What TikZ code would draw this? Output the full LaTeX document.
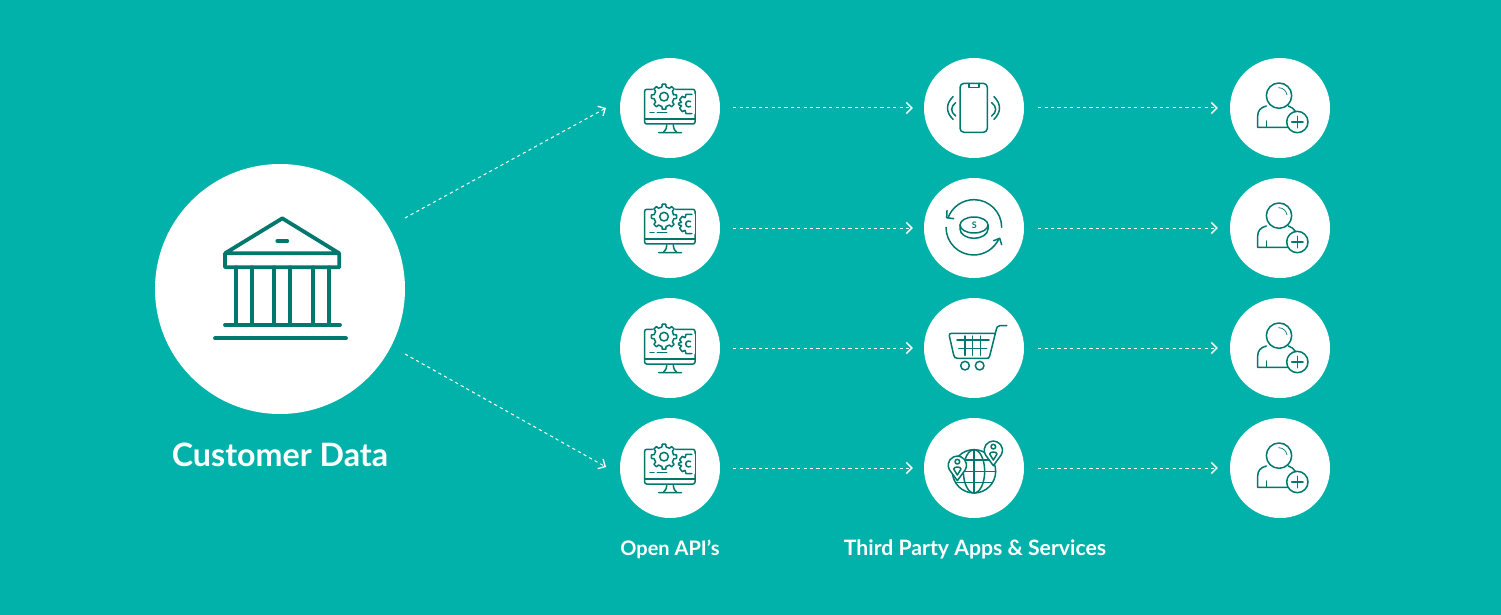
\documentclass[tikz,border=0pt]{standalone}
\usepackage{fontspec}
\setmainfont{Lato}
\usetikzlibrary{arrows.meta}
\definecolor{bgc}{HTML}{00B2A9}
\definecolor{ink}{HTML}{00786E}
\tikzset{
  x=1pt,y=-1pt,
  disc/.style={circle,fill=white,draw=none,inner sep=0pt,minimum size=100pt},
  flow/.style={draw=white,line width=1pt,dash pattern=on 3.2pt off 3.2pt,
    -{Straight Barb[length=5.5pt,width=11pt,line width=1.3pt]}},
  ico/.style={draw=ink,line width=1.5pt,line join=round,line cap=round},
  lab/.style={text=white,font=\fontsize{20}{24}\selectfont\bfseries,inner sep=0pt},
  monitor/.pic={\begin{scope}[x=.3333pt,y=-.3333pt,shift={(-180,-174)},ico]
    \draw[rounded corners=2pt] (104,118) -- (104,222) -- (255,222) -- (255,118) -- cycle;
    \draw (104,207) -- (255,207);
    \draw (170,224) .. controls (170,236) and (166,242) .. (160,247) (190,224) .. controls (190,236) and (194,242) .. (200,247) (146,248) -- (214,248);
    \draw (120,188) -- (132,188) (142,188) -- (170,188);
    \begin{scope}[shift={(162,140)}]
      \fill[white] (0,0) circle [radius=40];
      \draw (-10:29) \foreach \a in {0,45,...,315}{ -- (\a-12:30) -- (\a-8:38) -- (\a+8:38) -- (\a+12:30)} -- cycle;
      \draw (0,0) circle [radius=13];
    \end{scope}
    \begin{scope}[shift={(236,162)}]
      \fill[white] (-32,-30) rectangle (18,30);
      \draw (-72:30) -- (-105:30) -- (-120:22) -- (-130:30) -- (-155:30) -- (-167:22) -- (-175:30) -- (175:30) -- (167:22) -- (155:30) -- (130:30) -- (120:22) -- (105:30) -- (72:30);
      \draw (50:9) arc [start angle=50,end angle=310,radius=9];
    \end{scope}
  \end{scope}},
  phone/.pic={\begin{scope}[x=.3333pt,y=-.3333pt,shift={(-177,-174)},ico]
    \draw[rounded corners=4pt] (135,100) rectangle (217,247);
    \draw (162,100) -- (162,112) -- (192,112) -- (192,100);
    \draw (122,158) .. controls (106,170) and (106,186) .. (122,198);
    \draw (114,140) .. controls (92,162) and (92,186) .. (114,208);
    \draw (230,158) .. controls (246,170) and (246,186) .. (230,198);
    \draw (237,140) .. controls (259,162) and (259,186) .. (237,208);
  \end{scope}},
  adduser/.pic={\begin{scope}[x=.3333pt,y=-.3333pt,shift={(-180,-174)},ico]
    \draw (139,168) .. controls (122,172) and (113,182) .. (113,198) -- (113,232) -- (205,232);
    \draw (205,168) .. controls (215,172) and (222,176) .. (226,184);
    \draw (140,213) -- (140,232);
    \draw[fill=white] (177,137) circle [radius=38];
    \draw[line width=.7pt] (176,113) .. controls (190,114) and (198,122) .. (201,134);
    \draw[fill=white] (232,216) circle [radius=32];
    \draw (232,199) -- (232,233) (215,216) -- (249,216);
  \end{scope}},
  coin/.pic={\begin{scope}[x=.3333pt,y=-.3333pt,shift={(-177,-174)},ico]
    \draw (177,172) ++(0:83) arc [start angle=0,end angle=-160,radius=83];
    \draw (93,172) arc [start angle=180,end angle=25,radius=83];
    \draw (96,122) -- (95,143) -- (116,146);
    \draw (236,212) -- (254,205) -- (260,224);
    \draw (135,165) -- (135,177) .. controls (135,193) and (155,205) .. (177,205) .. controls (199,205) and (219,193) .. (219,177) -- (219,165);
    \draw[fill=white] (177,165) ellipse [x radius=42,y radius=24];
    \node[text=ink,font=\fontsize{9}{9}\selectfont\bfseries,inner sep=0pt] at (178,166) {S};
  \end{scope}},
  cart/.pic={\begin{scope}[x=.3333pt,y=-.3333pt,shift={(-177,-174)},ico]
    \draw (275,107) -- (255,107) .. controls (247,107) and (246,112) .. (244,118) -- (224,198) .. controls (222,205) and (220,205) .. (214,205) -- (128,205) .. controls (120,205) and (118,202) .. (116,195) -- (103,138) .. controls (102,132) and (104,130) .. (110,130) -- (240,130);
    \draw (126,150) -- (222,150) (131,175) -- (215,175);
    \draw (150,138) -- (150,196) (172,138) -- (172,196) (196,138) -- (196,196);
    \draw (150,227) circle [radius=13] (194,227) circle [radius=13];
  \end{scope}},
  globe/.pic={\begin{scope}[x=.3333pt,y=-.3333pt,shift={(-177,-174)},ico]
    \draw (177,184) circle [radius=65];
    \draw (177,184) ellipse [x radius=32,y radius=65];
    \draw (177,119) -- (177,249);
    \draw (120,150) -- (234,150) (112,184) -- (242,184) (122,218) -- (232,218);
    \foreach \px/\py in {127/165,235/120}{
      \begin{scope}[shift={(\px,\py)}]
        \draw[fill=white] (0,47) -- (-24,14) .. controls (-36,-12) and (-14,-27) .. (0,-27) .. controls (14,-27) and (36,-12) .. (24,14) -- cycle;
        \draw (0,-10) circle [radius=7];
        \draw[fill=white] (0,30) -- (-11,12) .. controls (-11,4) and (11,4) .. (11,12) -- cycle;
      \end{scope}}
  \end{scope}},
}
\begin{document}
\begin{tikzpicture}
\fill[bgc] (0,0) rectangle (1501,615);
\useasboundingbox (0,0) rectangle (1501,615);
\node[circle,fill=white,inner sep=0pt,minimum size=250pt] (bank) at (280,289) {};
\foreach \r/\y in {1/108,2/228,3/348,4/468}{
  \node[disc] (a\r) at (670,\y) {};
  \node[disc] (b\r) at (974,\y) {};
  \node[disc] (c\r) at (1280,\y) {};
  \draw[flow,shorten <=13pt,shorten >=11pt] (a\r) -- (b\r);
  \draw[flow,shorten <=14pt,shorten >=12pt] (b\r) -- (c\r);
  \pic at (a\r) {monitor};
  \pic at (c\r) {adduser};
}
\pic at (b1) {phone};
\pic at (b2) {coin};
\pic at (b3) {cart};
\pic at (b4) {globe};
\coordinate (s1) at (405,218);
\coordinate (e1) at (606,108);
\coordinate (s2) at (405,354);
\coordinate (e2) at (606,467);
\draw[flow] (s1) -- (e1);
\draw[flow] (s2) -- (e2);
\begin{scope}[shift={(200,205)},x=.3333pt,y=-.3333pt,draw=ink,line cap=round,line join=round,line width=3.8pt]
  \draw[ink] (75,145) -- (247,40) -- (418,145) (75,145) rectangle (418,187);
  \draw[ink] (232,108) -- (262,108);
  \foreach \c in {107,155,222,270,340,388}{\draw[ink] (\c,187) -- (\c,360);}
  \draw[ink] (75,360) -- (420,360) (45,400) -- (438,400);
\end{scope}
\node[lab,font=\fontsize{32.2}{36}\selectfont\bfseries] (t1) at (280,455) {Customer Data};
\node[lab] (t2) at (670,549) {Open API’s};
\node[lab,font=\fontsize{21.2}{24}\selectfont\bfseries] (t3) at (975,549) {Third Party Apps \& Services};
\end{tikzpicture}
\end{document}
